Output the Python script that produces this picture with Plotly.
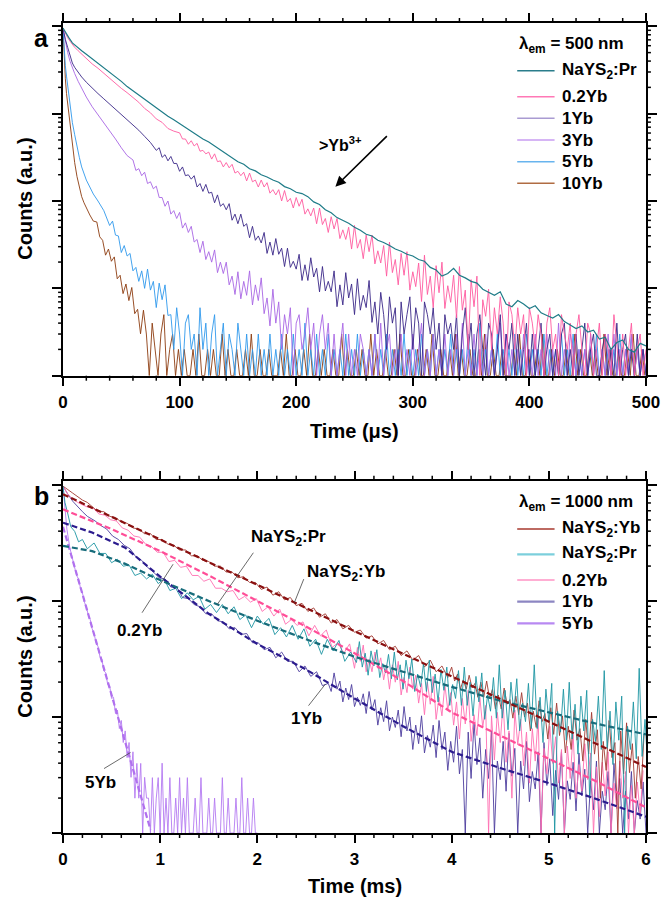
import numpy as np
import plotly.graph_objects as go

# ---------------------------------------------------------------------------
# Panel (a): decay of the 500 nm emission (time in µs).
# *_head / *_mid hold log10(counts); *_low hold raw counts, one digit per bin.
# ---------------------------------------------------------------------------
pr_a_head_t = [0, 2, 5, 8, 12, 16]
pr_a_head = [3.98, 3.93, 3.87, 3.81, 3.76, 3.72]
pr_a_mid_t0, pr_a_mid_dt = 20, 5
pr_a_mid = [3.68, 3.63, 3.58, 3.53, 3.48, 3.43, 3.37, 3.31, 3.26, 3.21, 3.16, 3.11,
            3.065, 3.02, 2.97, 2.93, 2.885, 2.84, 2.79, 2.755, 2.71, 2.675, 2.63, 2.59,
            2.545, 2.505, 2.45, 2.42, 2.37, 2.345, 2.30, 2.275, 2.24, 2.215, 2.165, 2.14,
            2.10, 2.085, 2.05, 1.99, 1.96, 1.90, 1.865, 1.81, 1.775, 1.745, 1.70, 1.665,
            1.62, 1.60, 1.55, 1.525, 1.49, 1.45, 1.425, 1.39, 1.37, 1.33, 1.31, 1.24,
            1.21, 1.14, 1.17, 1.23, 1.15, 1.12, 1.08, 1.06, 0.99, 0.95, 0.92, 0.96,
            0.82, 0.79, 0.86, 0.82, 0.77, 0.80, 0.72, 0.69, 0.66, 0.70, 0.62, 0.58,
            0.54, 0.57, 0.50, 0.52, 0.42, 0.44, 0.30, 0.38, 0.41, 0.30, 0.27, 0.37, 0.34]

yb02_a_head_t = [0, 1, 2, 4, 6, 8, 10, 13, 16, 20, 25, 30, 35, 40, 45, 50, 55, 60, 65, 70,
                 75, 80, 85, 90, 95]
yb02_a_head = [3.98, 3.95, 3.92, 3.87, 3.83, 3.79, 3.76, 3.72, 3.68, 3.63, 3.57, 3.52, 3.46,
               3.41, 3.35, 3.29, 3.24, 3.19, 3.13, 3.06, 3.01, 2.94, 2.90, 2.83, 2.80]
yb02_a_mid_t0, yb02_a_mid_dt = 100, 2.5
yb02_a_mid = [2.78, 2.71, 2.71, 2.65, 2.69, 2.63, 2.66, 2.57, 2.58, 2.54, 2.56, 2.48,
              2.54, 2.45, 2.46, 2.39, 2.44, 2.38, 2.42, 2.32, 2.34, 2.29, 2.33, 2.23,
              2.32, 2.22, 2.24, 2.16, 2.24, 2.16, 2.21, 2.09, 2.13, 2.07, 2.13, 2.00,
              2.12, 1.99, 2.03, 1.92, 2.04, 1.94, 2.02, 1.85, 1.91, 1.83, 1.92, 1.74,
              1.92, 1.73, 1.80, 1.64, 1.82, 1.68, 1.80, 1.57, 1.67, 1.56, 1.70, 1.45,
              1.72, 1.46, 1.56, 1.34, 1.61, 1.42, 1.61, 1.28, 1.43, 1.29, 1.49, 1.14,
              1.53, 1.18, 1.33, 1.04, 1.40, 1.15, 1.42, 0.98, 1.19, 1.02, 1.29, 0.85,
              1.38, 0.93, 1.14, 0.78, 1.26, 0.95, 1.30, 0.77, 1.03, 0.84, 1.15, 0.66,
              1.25, 0.75, 0.98, 0.30, 1.10, 0.79, 1.14, 0.00, 0.87, 0.68, 0.99, 0.30]
yb02_a_low_t0, yb02_a_low_dt = 370, 2.5
yb02_a_low = "6384175263516" "42531462315324135214" "31241321521312412312"

yb1_a_head_t = [0, 1, 2, 4, 6, 8, 10, 13, 16, 20, 25, 30, 35, 40, 45, 50, 55, 60, 65, 70, 75]
yb1_a_head = [3.98, 3.91, 3.85, 3.76, 3.66, 3.58, 3.53, 3.47, 3.42, 3.36, 3.29, 3.23, 3.17,
              3.11, 3.05, 2.99, 2.94, 2.88, 2.81, 2.74, 2.67]
yb1_a_mid_t0, yb1_a_mid_dt = 80, 2.5
yb1_a_mid = [2.58, 2.61, 2.50, 2.53, 2.46, 2.51, 2.43, 2.43, 2.34, 2.39, 2.29, 2.30,
             2.25, 2.29, 2.16, 2.20, 2.11, 2.19, 2.09, 2.10, 1.98, 2.07, 1.94, 1.97,
             1.90, 1.97, 1.78, 1.85, 1.74, 1.85, 1.71, 1.74, 1.58, 1.71, 1.55, 1.60,
             1.52, 1.64, 1.40, 1.53, 1.38, 1.57, 1.39, 1.46, 1.25, 1.46, 1.24, 1.31,
             1.22, 1.39, 1.09, 1.27, 1.09, 1.35, 1.13, 1.23, 0.96, 1.25, 0.97, 1.08,
             0.96, 1.20, 0.79, 1.04, 0.81, 1.18, 0.89, 1.05, 0.70, 1.11, 0.75, 0.92,
             0.78, 1.09, 0.61]
yb1_a_low_t0, yb1_a_low_dt = 267.5, 2.5
yb1_a_low = ("73952846173582641753624153"
             "4251362413521431251324131241"
             "3124123121341213124123112312141231213121")

yb3_a_head_t = [0, 1, 2, 4, 6, 8, 10, 13, 16, 20, 25, 30, 35, 40, 45, 50, 55]
yb3_a_head = [3.98, 3.90, 3.82, 3.70, 3.60, 3.52, 3.46, 3.37, 3.29, 3.19, 3.08, 2.99, 2.90,
              2.80, 2.71, 2.61, 2.52]
yb3_a_mid_t0, yb3_a_mid_dt = 60, 2.5
yb3_a_mid = [2.47, 2.35, 2.37, 2.29, 2.33, 2.20, 2.22, 2.14, 2.17, 2.04, 2.04, 1.94,
             2.00, 1.85, 1.89, 1.80, 1.87, 1.69, 1.75, 1.64, 1.71, 1.53, 1.56, 1.41,
             1.54, 1.33, 1.42, 1.30, 1.44, 1.18, 1.30, 1.17, 1.30, 1.04, 1.14, 0.93,
             1.19, 0.88, 1.08, 0.92, 1.20, 0.81, 1.04, 0.86, 1.12, 0.71, 0.89, 0.57, 0.99]
yb3_a_low_t0, yb3_a_low_dt = 182.5, 2.5
yb3_a_low = ("47253614523624135241"
             "312413121321" "213141231213" "121312412131" "213121314121" "312131212413"
             "121213121312" "131214121321" "212131212131" "312121312121")

yb5_a_head_t = [0, 1, 2, 3, 4, 5, 6, 7, 8, 10, 12, 14, 16, 18, 20, 23, 26, 30, 35]
yb5_a_head = [3.98, 3.72, 3.55, 3.43, 3.33, 3.20, 3.08, 2.97, 2.90, 2.76, 2.62, 2.50, 2.39,
              2.31, 2.24, 2.16, 2.08, 2.00, 1.89]
yb5_a_mid_t0, yb5_a_mid_dt = 40, 2.5
yb5_a_mid = [1.72, 1.77, 1.61, 1.60, 1.41, 1.49, 1.37, 1.40, 1.20, 1.24, 1.08, 1.20,
             1.00, 1.22, 0.98, 1.08, 0.78, 1.06, 0.87, 1.04, 0.69]
yb5_a_low_t0, yb5_a_low_dt = 92.5, 2.5
yb5_a_low = ("526314523162413512413214"
             "21312131213121" "31213121412131" "21312121312131" "21213121312121"
             "31212131213121" "21312121312141" "21213121213121" "31212131212131"
             "21312121213121" "21213121312121")

yb10_a_head_t = [0, 1, 2, 3, 4, 5, 6, 7, 8, 9, 10, 12, 14, 16, 18, 20, 23, 26]
yb10_a_head = [3.98, 3.62, 3.40, 3.23, 3.12, 3.00, 2.86, 2.72, 2.62, 2.53, 2.44, 2.28, 2.16,
               2.05, 1.98, 1.92, 1.84, 1.77]
yb10_a_mid_t0, yb10_a_mid_dt = 29, 2.5
yb10_a_mid = [1.76, 1.59, 1.55, 1.38, 1.45, 1.31, 1.36, 1.11, 1.15, 0.94, 1.05, 0.86,
              1.01, 0.71, 0.76, 0.48, 0.75]
yb10_a_low_t0, yb10_a_low_dt = 71.5, 2.5
yb10_a_low = ("314213512312"
              "1211213112121131" "2112112131121121" "1121311211213112" "1211211312112121"
              "1312112112131121" "1211213112112131" "2112112131121121" "1121311211213112"
              "1211211312112121" "1312112112131121")

# ---------------------------------------------------------------------------
# Panel (b): decay of the 1000 nm emission (time in ms), log10(counts)
# ---------------------------------------------------------------------------
nyb_b_head_t = [0, 0.02, 0.05, 0.10, 0.15, 0.20, 0.25]
nyb_b_head = [2.99, 2.98, 2.96, 2.93, 2.90, 2.87, 2.85]
nyb_b_mid_t0, nyb_b_mid_dt = 0.30, 0.06
nyb_b_mid = [2.81, 2.77, 2.77, 2.73, 2.72, 2.68, 2.67, 2.63, 2.62, 2.58, 2.58, 2.53, 2.53,
             2.49, 2.48, 2.44, 2.44, 2.39, 2.39, 2.35, 2.34, 2.30, 2.30, 2.25, 2.25, 2.20,
             2.21, 2.16, 2.16, 2.10, 2.12, 2.05, 2.08, 2.01, 2.03, 1.96, 1.98, 1.91, 1.94,
             1.86, 1.89, 1.81, 1.84, 1.76, 1.79, 1.73, 1.75, 1.68, 1.70, 1.63, 1.66, 1.58,
             1.61, 1.53, 1.57, 1.49, 1.53, 1.43, 1.49, 1.39, 1.44, 1.34]
nyb_b_tail_t0, nyb_b_tail_dt = 4.00, 0.03
nyb_b_tail = [1.43, 1.31, 1.37, 1.24, 1.32, 1.24, 1.36, 1.25, 1.29, 1.17, 1.30, 1.17,
              1.31, 1.16, 1.24, 1.07, 1.19, 1.07, 1.25, 1.11, 1.15, 0.99, 1.18, 1.02,
              1.21, 1.00, 1.12, 0.88, 1.05, 0.91, 1.14, 0.96, 1.03, 0.81, 1.08, 0.85,
              1.12, 0.84, 1.01, 0.69, 0.92, 0.72, 1.06, 0.80, 0.90, 0.62, 0.98, 0.68,
              1.04, 0.68, 0.89, 0.30, 0.79, 0.54, 0.97, 0.65, 0.78, 0.00, 0.88, 0.51,
              0.95, 0.52, 0.77, 0.30, 0.66, 0.38, 0.85]

pr_b_head_t = [0, 0.02, 0.05, 0.08, 0.12, 0.16, 0.20, 0.25]
pr_b_head = [2.99, 2.85, 2.75, 2.64, 2.60, 2.51, 2.53, 2.45]
pr_b_mid_t0, pr_b_mid_dt = 0.32, 0.06
pr_b_mid = [2.50, 2.41, 2.41, 2.33, 2.36, 2.30, 2.31, 2.22, 2.24, 2.19, 2.23, 2.15,
            2.19, 2.09, 2.11, 2.02, 2.07, 2.01, 2.04, 1.93, 1.97, 1.90, 1.97, 1.89,
            1.95, 1.84, 1.88, 1.77, 1.87, 1.80, 1.85, 1.71, 1.77, 1.69, 1.79, 1.67,
            1.76, 1.61, 1.67, 1.54, 1.67, 1.57, 1.66, 1.48, 1.56, 1.47]
pr_b_tail_t0, pr_b_tail_dt = 3.05, 0.03
pr_b_tail = [1.65, 1.43, 1.55, 1.36, 1.57, 1.44, 1.58, 1.34, 1.46, 1.38, 1.54, 1.33,
             1.56, 1.32, 1.45, 1.24, 1.49, 1.33, 1.50, 1.22, 1.37, 1.26, 1.46, 1.22,
             1.49, 1.21, 1.37, 1.13, 1.41, 1.23, 1.43, 1.10, 1.28, 1.16, 1.40, 1.10,
             1.43, 1.10, 1.30, 1.01, 1.35, 1.13, 1.38, 0.98, 1.19, 1.05, 1.34, 0.99,
             1.45, 0.99, 1.23, 0.89, 1.30, 1.04, 1.33, 0.88, 1.12, 0.96, 1.29, 0.90,
             1.45, 0.90, 1.17, 0.78, 1.24, 0.96, 1.29, 0.00, 1.05, 0.87, 1.24, 0.80,
             1.30, 0.81, 1.11, 0.68, 1.18, 0.88, 1.23, 0.30, 0.98, 0.79, 1.18, 0.72,
             1.40, 0.73, 1.05, 0.59, 1.13, 0.80, 1.18, 0.00, 0.92, 0.72, 1.13, 0.64,
             1.42, 0.66, 0.98, 0.53]

yb02_b_head_t = [0, 0.02, 0.05, 0.10, 0.15, 0.20, 0.25]
yb02_b_head = [2.99, 2.96, 2.92, 2.88, 2.85, 2.83, 2.81]
yb02_b_mid_t0, yb02_b_mid_dt = 0.31, 0.06
yb02_b_mid = [2.80, 2.75, 2.74, 2.70, 2.69, 2.63, 2.61, 2.56, 2.55, 2.49, 2.47, 2.42,
              2.42, 2.34, 2.35, 2.29, 2.30, 2.22, 2.22, 2.17, 2.19, 2.11, 2.11, 2.08,
              2.09, 2.01, 2.04, 1.99, 2.02, 1.91, 1.95, 1.87, 1.93, 1.80, 1.84, 1.79,
              1.82, 1.70, 1.79, 1.70, 1.75, 1.60, 1.64, 1.55, 1.63]
yb02_b_tail_t0, yb02_b_tail_dt = 3.00, 0.03
yb02_b_tail = [1.42, 1.60, 1.48, 1.62, 1.39, 1.50, 1.39, 1.56, 1.42, 1.51, 1.32, 1.45,
               1.24, 1.45, 1.30, 1.48, 1.19, 1.34, 1.21, 1.43, 1.24, 1.36, 1.12, 1.29,
               1.02, 1.30, 1.11, 1.35, 0.98, 1.17, 1.01, 1.28, 1.06, 1.21, 0.93, 1.13,
               0.81, 1.16, 0.94, 1.23, 0.79, 1.02, 0.84, 1.17, 0.91, 1.10, 0.00, 1.01,
               0.63, 1.04, 0.78, 1.13, 0.61, 0.88, 0.30, 1.06, 0.76, 0.98, 0.58, 0.87,
               0.43, 0.90, 0.62, 1.00, 0.00, 0.73, 0.51, 0.92, 0.60, 0.83, 0.43, 0.72,
               0.00, 0.75, 0.47, 0.85, 0.30, 0.59, 0.36, 0.77, 0.46, 0.69, 0.00, 0.57,
               0.14, 0.61, 0.32, 0.70, 0.00, 0.43, 0.21, 0.62, 0.30, 0.53, 0.00, 0.41,
               0.00, 0.44, 0.16, 0.54]

yb1_b_head_t = [0, 0.02, 0.05, 0.10, 0.15, 0.20, 0.25]
yb1_b_head = [2.99, 2.96, 2.92, 2.86, 2.81, 2.77, 2.73]
yb1_b_mid_t0, yb1_b_mid_dt = 0.33, 0.06
yb1_b_mid = [2.69, 2.65, 2.62, 2.56, 2.53, 2.48, 2.45, 2.38, 2.35, 2.29, 2.25, 2.20,
             2.19, 2.12, 2.12, 2.03, 2.02, 1.97, 1.95, 1.89, 1.89, 1.83, 1.82, 1.76,
             1.77, 1.71, 1.72, 1.64, 1.64, 1.58, 1.60, 1.51, 1.56, 1.48, 1.48, 1.39,
             1.44, 1.35, 1.39, 1.27, 1.29]
yb1_b_tail_t0, yb1_b_tail_dt = 2.76, 0.03
yb1_b_tail = [1.22, 1.38, 1.24, 1.31, 1.13, 1.25, 1.15, 1.28, 1.09, 1.17, 1.10, 1.20,
              1.03, 1.22, 1.06, 1.15, 0.93, 1.08, 0.96, 1.14, 0.88, 1.00, 0.91, 1.06,
              0.83, 1.09, 0.88, 1.00, 0.72, 0.93, 0.77, 1.01, 0.69, 0.84, 0.74, 0.93,
              0.65, 0.97, 0.72, 0.87, 0.54, 0.79, 0.61, 0.92, 0.51, 0.72, 0.00, 0.87,
              0.47, 0.95, 0.59, 0.82, 0.30, 0.72, 0.47, 0.88, 0.00, 0.62, 0.46, 0.79,
              0.36, 0.86, 0.49, 0.73, 0.00, 0.62, 0.38, 0.79, 0.27, 0.53, 0.38, 0.70,
              0.00, 0.78, 0.41, 0.64, 0.15, 0.54, 0.29, 0.70, 0.00, 0.45, 0.29, 0.61,
              0.19, 0.69, 0.32, 0.55, 0.00, 0.45, 0.20, 0.62, 0.00, 0.36, 0.20, 0.53,
              0.00, 0.60, 0.24, 0.47, 0.00, 0.36, 0.12, 0.53, 0.00, 0.28, 0.12, 0.44, 0.00]

yb5_b_head_t = [0, 0.02, 0.04, 0.07, 0.10]
yb5_b_head = [2.99, 2.80, 2.62, 2.46, 2.36]
yb5_b_mid_t0, yb5_b_mid_dt = 0.12, 0.02
yb5_b_mid = [2.30, 2.22, 2.19, 2.11, 2.07, 1.99, 1.95, 1.88, 1.84, 1.76, 1.72, 1.64, 1.61,
             1.52, 1.50, 1.40, 1.38, 1.28, 1.27, 1.16, 1.17, 1.03, 1.06, 0.90, 0.97, 0.78,
             0.88, 0.65, 0.78, 0.48, 0.70, 0.30, 0.60, 0.30, 0.60, 0.00, 0.48, 0.30]
yb5_b_low_t0, yb5_b_low_dt = 0.88, 0.02
yb5_b_low = "2131231412131121312131" "11211311121121113112111211311211211"

# fitted decays (dashed) in panel (b), log10(counts)
fit_nyb_t = [0, 1, 2, 3, 4, 5, 6]
fit_nyb = [2.92, 2.53, 2.14, 1.74, 1.35, 0.96, 0.57]
fit_pr_t = [0, 0.3, 0.64, 1, 1.5, 2, 2.5, 3, 3.5, 4, 4.5, 5, 5.5, 6]
fit_pr = [2.475, 2.43, 2.32, 2.18, 2.00, 1.83, 1.67, 1.52, 1.39, 1.26, 1.14, 1.04, 0.94, 0.85]
fit_yb02_t = [0, 0.5, 1, 1.5, 2, 2.5, 3, 3.5, 4, 4.5, 5, 5.5, 6]
fit_yb02 = [2.79, 2.62, 2.43, 2.22, 2.00, 1.78, 1.55, 1.31, 1.04, 0.84, 0.64, 0.44, 0.22]
fit_yb1_t = [0, 0.3, 0.64, 1, 1.5, 2, 2.5, 3, 3.5, 4, 4.5, 5, 5.5, 6]
fit_yb1 = [2.675, 2.59, 2.46, 2.21, 1.89, 1.63, 1.41, 1.16, 0.92, 0.70, 0.56, 0.43, 0.29, 0.14]
fit_yb5_t = [0, 0.3, 0.6, 0.9]
fit_yb5 = [2.64, 1.77, 0.90, 0.03]


def counts(lg):
    """log10(counts) -> counts"""
    return np.power(10.0, np.asarray(lg, dtype=float))


def decay(head_t, head, *blocks):
    """Join an explicit head with evenly binned blocks (t0, dt, values).
    Values given as a list are log10(counts); a digit string is raw counts."""
    ts = [np.asarray(head_t, float)]
    ys = [counts(head)]
    for t0, dt, vals in blocks:
        if isinstance(vals, str):
            y = np.array([int(c) for c in vals], float)
        else:
            y = counts(vals)
        ts.append(t0 + dt * np.arange(len(y)))
        ys.append(y)
    return np.concatenate(ts), np.concatenate(ys)


fig = go.Figure()

# ----- panel (a), drawn from the fastest decay up -----
panel_a = [
    ("10Yb", "#8c3b0f", 0.9, decay(yb10_a_head_t, yb10_a_head,
                                   (yb10_a_mid_t0, yb10_a_mid_dt, yb10_a_mid),
                                   (yb10_a_low_t0, yb10_a_low_dt, yb10_a_low))),
    ("5Yb", "#2f98ec", 0.9, decay(yb5_a_head_t, yb5_a_head,
                                  (yb5_a_mid_t0, yb5_a_mid_dt, yb5_a_mid),
                                  (yb5_a_low_t0, yb5_a_low_dt, yb5_a_low))),
    ("3Yb", "#a865e4", 0.9, decay(yb3_a_head_t, yb3_a_head,
                                  (yb3_a_mid_t0, yb3_a_mid_dt, yb3_a_mid),
                                  (yb3_a_low_t0, yb3_a_low_dt, yb3_a_low))),
    ("1Yb", "#3a2788", 0.9, decay(yb1_a_head_t, yb1_a_head,
                                  (yb1_a_mid_t0, yb1_a_mid_dt, yb1_a_mid),
                                  (yb1_a_low_t0, yb1_a_low_dt, yb1_a_low))),
    ("0.2Yb", "#ff5a9f", 0.9, decay(yb02_a_head_t, yb02_a_head,
                                    (yb02_a_mid_t0, yb02_a_mid_dt, yb02_a_mid),
                                    (yb02_a_low_t0, yb02_a_low_dt, yb02_a_low))),
    ("NaYS<sub>2</sub>:Pr", "#1f7c88", 1.2, decay(pr_a_head_t, pr_a_head,
                                                  (pr_a_mid_t0, pr_a_mid_dt, pr_a_mid))),
]
for name, color, width, (t, y) in panel_a:
    fig.add_trace(go.Scatter(x=t, y=y, mode="lines", name=name, showlegend=False,
                             line=dict(color=color, width=width), xaxis="x", yaxis="y"))

# ----- panel (b) measured decays -----
panel_b = [
    ("5Yb", "#b47af2", decay(yb5_b_head_t, yb5_b_head,
                             (yb5_b_mid_t0, yb5_b_mid_dt, yb5_b_mid),
                             (yb5_b_low_t0, yb5_b_low_dt, yb5_b_low))),
    ("1Yb", "#4d3d9e", decay(yb1_b_head_t, yb1_b_head,
                             (yb1_b_mid_t0, yb1_b_mid_dt, yb1_b_mid),
                             (yb1_b_tail_t0, yb1_b_tail_dt, yb1_b_tail))),
    ("0.2Yb", "#ff6fb2", decay(yb02_b_head_t, yb02_b_head,
                               (yb02_b_mid_t0, yb02_b_mid_dt, yb02_b_mid),
                               (yb02_b_tail_t0, yb02_b_tail_dt, yb02_b_tail))),
    ("NaYS<sub>2</sub>:Yb", "#a23a32", decay(nyb_b_head_t, nyb_b_head,
                                             (nyb_b_mid_t0, nyb_b_mid_dt, nyb_b_mid),
                                             (nyb_b_tail_t0, nyb_b_tail_dt, nyb_b_tail))),
    ("NaYS<sub>2</sub>:Pr", "#1d95a3", decay(pr_b_head_t, pr_b_head,
                                             (pr_b_mid_t0, pr_b_mid_dt, pr_b_mid),
                                             (pr_b_tail_t0, pr_b_tail_dt, pr_b_tail))),
]
for name, color, (t, y) in panel_b:
    fig.add_trace(go.Scatter(x=t, y=y, mode="lines", name=name, showlegend=False,
                             line=dict(color=color, width=0.9), xaxis="x2", yaxis="y2"))

# ----- panel (b) fitted decays -----
fits = [
    (fit_yb5_t, fit_yb5, "#b070ee"),
    (fit_yb1_t, fit_yb1, "#2b1b8e"),
    (fit_yb02_t, fit_yb02, "#ff4d97"),
    (fit_pr_t, fit_pr, "#176c7b"),
    (fit_nyb_t, fit_nyb, "#8a1010"),
]
for t, lg, color in fits:
    fig.add_trace(go.Scatter(x=t, y=counts(lg), mode="lines", showlegend=False,
                             line=dict(color=color, width=2.2, dash="6px,3px"),
                             xaxis="x2", yaxis="y2"))

# ----- layout -----
W, H = 672, 898
ML, MR, MT, MB = 63, 16, 23, 65
PW, PH = W - ML - MR, H - MT - MB


def px_x(px):
    return (px - ML) / PW


def px_y(py):
    return (H - MB - py) / PH


FONT = "Liberation Sans"
tickfont = dict(family=FONT, size=17, color="black", weight="bold")
frame = dict(showline=True, linecolor="black", linewidth=1.6, mirror="allticks",
             ticks="outside", tickcolor="black", tickwidth=1.5, showgrid=False,
             zeroline=False)

a_dom = [px_y(375.7), 1.0]
b_dom = [0.0, px_y(480.7)]
a_xr, a_yr = [0, 500], [0, 4.038]
b_xr, b_yr = [0, 6], [0, 3.037]

fig.update_layout(
    width=W, height=H, margin=dict(l=ML, r=MR, t=MT, b=MB),
    paper_bgcolor="white", plot_bgcolor="white", showlegend=False,
    xaxis=dict(domain=[0, 1], anchor="y", range=a_xr, tick0=0, dtick=100, ticklen=8,
               tickfont=tickfont, ticklabelstandoff=2, **frame),
    yaxis=dict(domain=a_dom, anchor="x", type="log", range=a_yr, dtick=1, ticklen=9,
               showticklabels=False, **frame),
    xaxis2=dict(domain=[0, 1], anchor="y2", range=b_xr, tick0=0, dtick=1, ticklen=8,
                tickfont=tickfont, ticklabelstandoff=2, **frame),
    yaxis2=dict(domain=b_dom, anchor="x2", type="log", range=b_yr, dtick=1, ticklen=9,
                showticklabels=False, **frame),
)


# minor ticks on all four sides of a frame, one short line shape per tick
def minor_ticks(dom, xr, yr, x_minor, x_major, tick_px=5):
    dx, dy = tick_px / PW, tick_px / PH
    d0, d1 = dom
    segs = []
    for v in np.arange(xr[0], xr[1] + 1e-9, x_minor):
        q = v / x_major
        if abs(q - round(q)) < 1e-6:
            continue
        xp = float((v - xr[0]) / (xr[1] - xr[0]))
        segs.append((xp, d0, xp, d0 - dy))
        segs.append((xp, d1, xp, d1 + dy))
    for dec in range(int(np.floor(yr[0])), int(np.ceil(yr[1]))):
        for m in range(2, 10):
            lv = dec + np.log10(m)
            if yr[0] < lv < yr[1]:
                yp = float(d0 + (lv - yr[0]) / (yr[1] - yr[0]) * (d1 - d0))
                segs.append((0.0, yp, -dx, yp))
                segs.append((1.0, yp, 1 + dx, yp))
    return [dict(type="line", xref="paper", yref="paper", layer="above",
                 x0=float(a), y0=float(b), x1=float(c), y1=float(d),
                 line=dict(color="black", width=1.5)) for a, b, c, d in segs]


shapes = (minor_ticks(a_dom, a_xr, a_yr, 20, 100)
          + minor_ticks(b_dom, b_xr, b_yr, 0.2, 1))

ann = []
title_font = dict(family=FONT, size=20, color="black", weight="bold")
label_font = dict(family=FONT, size=17, color="black", weight="bold")
letter_font = dict(family=FONT, size=25, color="black", weight="bold")


def paper_text(text, px, py, font, angle=0, xanchor="center"):
    return dict(text=text, x=px_x(px), y=px_y(py), xref="paper", yref="paper",
                xanchor=xanchor, yanchor="middle", showarrow=False, textangle=angle,
                font=font)


# axis titles and panel letters
ann += [
    paper_text("Time (μs)", 359.5, 431, title_font),
    paper_text("Time (ms)", 359.5, 886, title_font),
    paper_text("Counts (a.u.)", 24, 199, title_font, angle=-90),
    paper_text("Counts (a.u.)", 24, 657, title_font, angle=-90),
    paper_text("a", 41, 38, letter_font),
    paper_text("b", 41, 496, letter_font),
]

# panel (a): ">Yb3+" arrow
ann += [
    dict(x=233.6, y=2.164, xref="x", yref="y", ax=53, ay=-52, text="", showarrow=True,
         arrowhead=2, arrowsize=1.3, arrowwidth=1.6, arrowcolor="black"),
    dict(x=238.2, y=2.653, xref="x", yref="y", text=">Yb<sup>3+</sup>", showarrow=False,
         xanchor="center", yanchor="middle",
         font=dict(family=FONT, size=16, color="black", weight="bold")),
]

# panel (b): curve labels with leader lines (text pos, leader tip, leader tail offset)
curve_labels = [
    ("NaYS<sub>2</sub>:Pr", (2.322, 2.539), (1.589, 1.972), (37, -53)),
    ("NaYS<sub>2</sub>:Yb", (2.914, 2.242), (2.381, 1.986), (10, -25)),
    ("0.2Yb", (0.784, 1.742), (1.133, 2.317), (-32, 50)),
    ("1Yb", (2.509, 0.983), (2.700, 1.283), (-18, 23)),
    ("5Yb", (0.391, 0.433), (0.695, 0.694), (-28, 17)),
]
for text, (tx, ty), (hx, hy), (ox, oy) in curve_labels:
    ann.append(dict(x=tx, y=ty, xref="x2", yref="y2", text=text, showarrow=False,
                    xanchor="center", yanchor="middle", font=label_font))
    ann.append(dict(x=hx, y=hy, xref="x2", yref="y2", ax=ox, ay=oy, text="",
                    showarrow=True, arrowhead=0, arrowwidth=0.8, arrowcolor="#444444"))

# legends drawn as line samples + labels
legend_a = [("NaYS<sub>2</sub>:Pr", "#2a7d8b", 70.7), ("0.2Yb", "#ff78b6", 96.7),
            ("1Yb", "#a99bd2", 118.3), ("3Yb", "#c99cf2", 140.0),
            ("5Yb", "#68b4ee", 161.7), ("10Yb", "#b06c42", 183.3)]
legend_b = [("NaYS<sub>2</sub>:Yb", "#bd6a62", 529.0), ("NaYS<sub>2</sub>:Pr", "#7ccfdc", 554.3),
            ("0.2Yb", "#ffaed3", 580.0), ("1Yb", "#8c86c2", 601.7),
            ("5Yb", "#b889f2", 623.3)]
for title, ty, entries, lw in [("λ<sub>em</sub> = 500 nm", 45.0, legend_a, 1.5),
                               ("λ<sub>em</sub> = 1000 nm", 503.3, legend_b, 2.2)]:
    ann.append(paper_text(title, 525, ty, label_font, xanchor="left"))
    for text, color, ry in entries:
        shapes.append(dict(type="line", xref="paper", yref="paper", x0=px_x(525), x1=px_x(563),
                           y0=px_y(ry), y1=px_y(ry), line=dict(color=color, width=lw)))
        ann.append(paper_text(text, 569, ry, label_font, xanchor="left"))

fig.update_layout(annotations=ann, shapes=shapes)
fig.write_html("out.html")
